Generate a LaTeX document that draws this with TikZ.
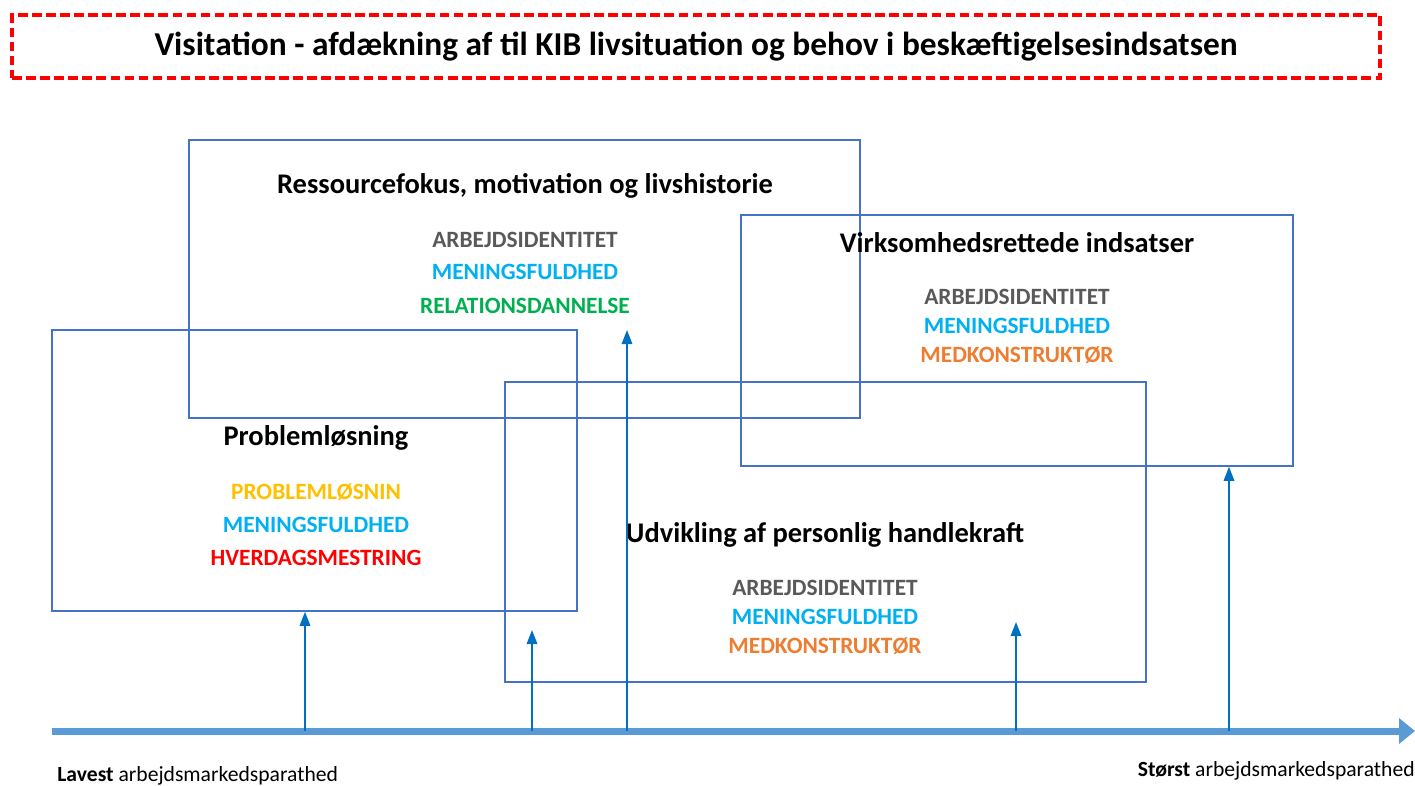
\documentclass[tikz,border=0pt]{standalone}
\usepackage{fontspec}
\setmainfont{Carlito}
\usetikzlibrary{arrows.meta,positioning}

\definecolor{boxline}{RGB}{68,114,196}
\definecolor{arrowblue}{RGB}{0,112,192}
\definecolor{axisblue}{RGB}{91,155,213}
\definecolor{kwgray}{RGB}{89,89,89}
\definecolor{kwcyan}{RGB}{0,176,240}
\definecolor{kwgreen}{RGB}{0,176,80}
\definecolor{kworange}{RGB}{237,125,49}
\definecolor{kwyellow}{RGB}{255,192,0}
\definecolor{kwred}{RGB}{255,0,0}

\tikzset{
  area/.style={draw=boxline, line width=0.9pt, rectangle, inner sep=0pt},
  areatitle/.style={font=\fontsize{16.2}{18}\selectfont\bfseries, text=black, inner sep=0pt},
  kw/.style={font=\fontsize{13.3}{15}\selectfont\bfseries, inner sep=0pt},
  lift/.style={draw=arrowblue, line width=0.9pt, -{Triangle[width=6pt,length=8pt]}},
}

\begin{document}
\begin{tikzpicture}[x=0.02cm,y=-0.02cm]
      \useasboundingbox (0,0) rectangle (1415,785);

      % header
      \node[draw=red, line width=2.2pt, dash pattern=on 5.5pt off 2.5pt,
            minimum width=27.36cm, minimum height=1.26cm, inner sep=0pt,
            font=\fontsize{19}{22}\selectfont\bfseries] (head) at (696,46.5)
            {Visitation - afdækning af til KIB livsituation og behov i beskæftigelsesindsatsen};

      % areas
      \node[area, minimum width=13.42cm, minimum height=5.56cm] (res) at (524.5,279) {};
      \node[area, minimum width=11.04cm, minimum height=5.02cm] (virk) at (1017,340.5) {};
      \node[area, minimum width=10.5cm, minimum height=5.62cm] (prob) at (314.5,470.5) {};
      \node[area, minimum width=12.82cm, minimum height=6cm] (udv) at (825.5,532) {};

      % area titles
      \node[areatitle] (res title) at (525,186) {Ressourcefokus, motivation og livshistorie};
      \node[areatitle] (virk title) at (1017,243) {Virksomhedsrettede indsatser};
      \node[areatitle] (prob title) at (316,438) {Problemløsning};
      \node[areatitle] (udv title) at (825,535) {Udvikling af personlig handlekraft};

      % keywords
      \node[kw, text=kwgray]   (res1) at (525,240) {ARBEJDSIDENTITET};
      \node[kw, text=kwcyan]   (res2) at (525,272) {MENINGSFULDHED};
      \node[kw, text=kwgreen]  (res3) at (525,306) {RELATIONSDANNELSE};

      \node[kw, text=kwgray]   (virk1) at (1017,297) {ARBEJDSIDENTITET};
      \node[kw, text=kwcyan]   (virk2) at (1017,326) {MENINGSFULDHED};
      \node[kw, text=kworange] (virk3) at (1017,355) {MEDKONSTRUKTØR};

      \node[kw, text=kwyellow] (prob1) at (316,492) {PROBLEMLØSNIN};
      \node[kw, text=kwcyan]   (prob2) at (316,525) {MENINGSFULDHED};
      \node[kw, text=kwred]    (prob3) at (316,558) {HVERDAGSMESTRING};

      \node[kw, text=kwgray]   (udv1) at (825,588) {ARBEJDSIDENTITET};
      \node[kw, text=kwcyan]   (udv2) at (825,617) {MENINGSFULDHED};
      \node[kw, text=kworange] (udv3) at (825,646) {MEDKONSTRUKTØR};

      % axis
      \coordinate (axis start) at (52,731);
      \coordinate (axis end) at (1415,731);
      \draw[draw=axisblue, line width=4pt, -{Triangle[width=14pt,length=9pt]}] (axis start) -- (axis end);

      % arrows up from the axis
      \coordinate (a1) at (305,731);
      \coordinate (a2) at (532,731);
      \coordinate (a3) at (627,731);
      \coordinate (a4) at (1016,731);
      \coordinate (a5) at (1229,731);
      \coordinate (t2) at (532,630);
      \coordinate (t3) at (627,330);
      \coordinate (t4) at (1016,622);
      \draw[lift] (a1) -- (a1 |- prob.south);
      \draw[lift] (a2) -- (t2);
      \draw[lift] (a3) -- (t3);
      \draw[lift] (a4) -- (t4);
      \draw[lift] (a5) -- (a5 |- virk.south);

      % ends of the axis
      \node[anchor=base west, font=\fontsize{12.3}{14}\selectfont, inner sep=0pt] (low) at (57,781)
            {\textbf{Lavest} arbejdsmarkedsparathed};
      \node[anchor=base east, font=\fontsize{12.3}{14}\selectfont, inner sep=0pt] (high) at (1415,776)
            {\textbf{Størst} arbejdsmarkedsparathed};
\end{tikzpicture}
\end{document}
